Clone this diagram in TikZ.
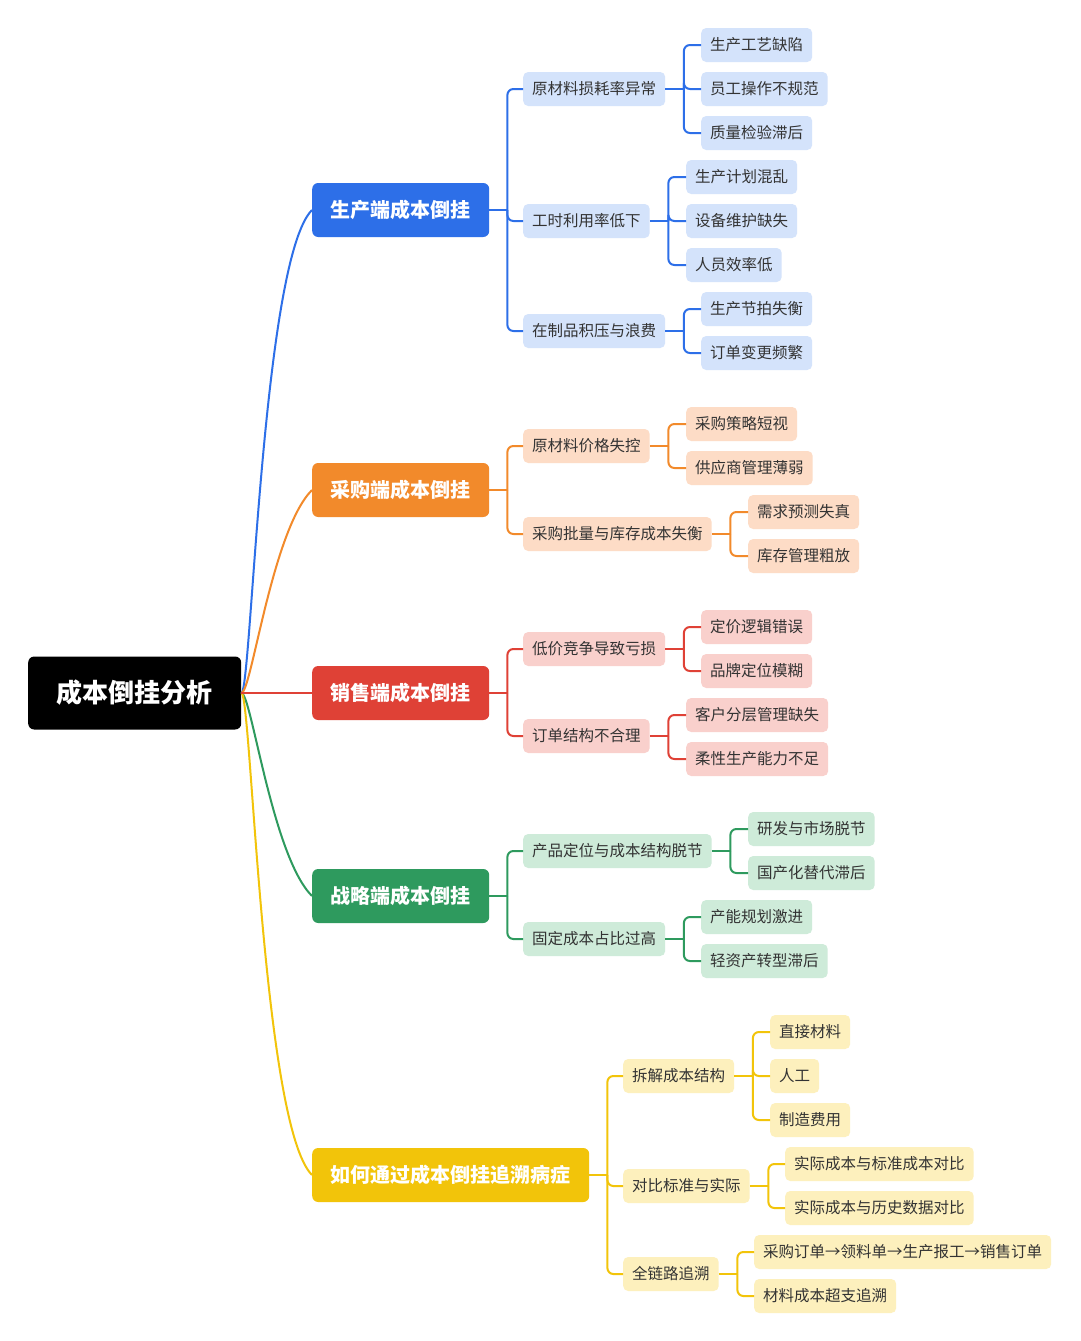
\documentclass[tikz,border=0pt]{standalone}
\usepackage{fontspec}
\setmainfont{Noto Sans CJK SC}
\definecolor{txt}{HTML}{333333}
\definecolor{bD}{HTML}{2D6FE8}\definecolor{bL}{HTML}{D4E3FB}
\definecolor{oD}{HTML}{F28A2B}\definecolor{oL}{HTML}{FDDCC6}
\definecolor{rD}{HTML}{DF4136}\definecolor{rL}{HTML}{F9D0CC}
\definecolor{gD}{HTML}{2E9A5E}\definecolor{gL}{HTML}{CEEBD9}
\definecolor{yD}{HTML}{F2C40A}\definecolor{yL}{HTML}{FDF0BD}
\tikzset{
  rootbox/.style={fill=black, text=white, font=\bfseries\fontsize{26}{30}\selectfont,
    rounded corners=6, minimum height=73, inner xsep=28.5, inner ysep=0, anchor=west},
  mainbox/.style={fill=#1, text=white, font=\bfseries\fontsize{20}{24}\selectfont,
    rounded corners=6, minimum height=54, inner xsep=18.5, inner ysep=0, anchor=west},
  subbox/.style={fill=#1, text=txt, font=\fontsize{15.5}{18}\selectfont,
    rounded corners=5, minimum height=34, inner xsep=9, inner ysep=0, anchor=west},
  conn/.style={draw=#1, line width=2},
  elbow/.style={draw=#1, line width=2, rounded corners=6},
}
\newcommand{\junction}[3]{\draw[conn=#1] (#2.east) -- ++(#3,0) coordinate (#2j);}
\newcommand{\twig}[3]{\draw[elbow=#1] (#2j) |- (#3.west);}
\begin{document}
\begin{tikzpicture}[x=1pt,y=-1pt]
\useasboundingbox[fill=white] (0,0) rectangle (1080,1341);

% root
\node[rootbox] (root) at (28,693) {成本倒挂分析};

% main branches
\node[mainbox=bD] (b0) at (312,210) {生产端成本倒挂};
\node[mainbox=oD] (o0) at (312,490) {采购端成本倒挂};
\node[mainbox=rD] (r0) at (312,693) {销售端成本倒挂};
\node[mainbox=gD] (g0) at (312,896) {战略端成本倒挂};
\node[mainbox=yD] (y0) at (312,1175) {如何通过成本倒挂追溯病症};

\draw[conn=bD] (root.east) .. controls +(10,0) and +(-50,50) .. (b0.west);
\draw[conn=oD] (root.east) .. controls +(10,0) and +(-40,40) .. (o0.west);
\draw[conn=gD] (root.east) .. controls +(10,0) and +(-40,-40) .. (g0.west);
\draw[conn=yD] (root.east) .. controls +(10,0) and +(-50,-50) .. (y0.west);
\draw[conn=rD] (root.east) -- (r0.west);

% blue group
\node[subbox=bL] (b1) at (523,89) {原材料损耗率异常};
\node[subbox=bL] (b2) at (523,221) {工时利用率低下};
\node[subbox=bL] (b3) at (523,331) {在制品积压与浪费};
\node[subbox=bL] (b11) at (701,45) {生产工艺缺陷};
\node[subbox=bL] (b12) at (701,89) {员工操作不规范};
\node[subbox=bL] (b13) at (701,133) {质量检验滞后};
\node[subbox=bL] (b21) at (686,177) {生产计划混乱};
\node[subbox=bL] (b22) at (686,221) {设备维护缺失};
\node[subbox=bL] (b23) at (686,265) {人员效率低};
\node[subbox=bL] (b31) at (701,309) {生产节拍失衡};
\node[subbox=bL] (b32) at (701,353) {订单变更频繁};
\junction{bD}{b0}{18}
\twig{bD}{b0}{b1}\twig{bD}{b0}{b2}\twig{bD}{b0}{b3}
\junction{bD}{b1}{18.5}
\twig{bD}{b1}{b11}\twig{bD}{b1}{b12}\twig{bD}{b1}{b13}
\junction{bD}{b2}{18.5}
\twig{bD}{b2}{b21}\twig{bD}{b2}{b22}\twig{bD}{b2}{b23}
\junction{bD}{b3}{18.5}
\twig{bD}{b3}{b31}\twig{bD}{b3}{b32}

% orange group
\node[subbox=oL] (o1) at (523,446) {原材料价格失控};
\node[subbox=oL] (o2) at (523,534) {采购批量与库存成本失衡};
\node[subbox=oL] (o11) at (686,424) {采购策略短视};
\node[subbox=oL] (o12) at (686,468) {供应商管理薄弱};
\node[subbox=oL] (o21) at (748,512) {需求预测失真};
\node[subbox=oL] (o22) at (748,556) {库存管理粗放};
\junction{oD}{o0}{18}
\twig{oD}{o0}{o1}\twig{oD}{o0}{o2}
\junction{oD}{o1}{18.5}
\twig{oD}{o1}{o11}\twig{oD}{o1}{o12}
\junction{oD}{o2}{18.5}
\twig{oD}{o2}{o21}\twig{oD}{o2}{o22}

% red group
\node[subbox=rL] (r1) at (523,649) {低价竞争导致亏损};
\node[subbox=rL] (r2) at (523,736) {订单结构不合理};
\node[subbox=rL] (r11) at (701,627) {定价逻辑错误};
\node[subbox=rL] (r12) at (701,671) {品牌定位模糊};
\node[subbox=rL] (r21) at (686,715) {客户分层管理缺失};
\node[subbox=rL] (r22) at (686,759) {柔性生产能力不足};
\junction{rD}{r0}{18}
\twig{rD}{r0}{r1}\twig{rD}{r0}{r2}
\junction{rD}{r1}{18.5}
\twig{rD}{r1}{r11}\twig{rD}{r1}{r12}
\junction{rD}{r2}{18.5}
\twig{rD}{r2}{r21}\twig{rD}{r2}{r22}

% green group
\node[subbox=gL] (g1) at (523,851) {产品定位与成本结构脱节};
\node[subbox=gL] (g2) at (523,939) {固定成本占比过高};
\node[subbox=gL] (g11) at (748,829) {研发与市场脱节};
\node[subbox=gL] (g12) at (748,873) {国产化替代滞后};
\node[subbox=gL] (g21) at (701,917) {产能规划激进};
\node[subbox=gL] (g22) at (701,961) {轻资产转型滞后};
\junction{gD}{g0}{18}
\twig{gD}{g0}{g1}\twig{gD}{g0}{g2}
\junction{gD}{g1}{18.5}
\twig{gD}{g1}{g11}\twig{gD}{g1}{g12}
\junction{gD}{g2}{18.5}
\twig{gD}{g2}{g21}\twig{gD}{g2}{g22}

% yellow group
\node[subbox=yL] (y1) at (623,1076) {拆解成本结构};
\node[subbox=yL] (y2) at (623,1186) {对比标准与实际};
\node[subbox=yL] (y3) at (623,1274) {全链路追溯};
\node[subbox=yL] (y11) at (770,1032) {直接材料};
\node[subbox=yL] (y12) at (770,1076) {人工};
\node[subbox=yL] (y13) at (770,1120) {制造费用};
\node[subbox=yL] (y21) at (785,1164) {实际成本与标准成本对比};
\node[subbox=yL] (y22) at (785,1208) {实际成本与历史数据对比};
\node[subbox=yL] (y31) at (754,1252) {采购订单→领料单→生产报工→销售订单};
\node[subbox=yL] (y32) at (754,1296) {材料成本超支追溯};
\junction{yD}{y0}{18}
\twig{yD}{y0}{y1}\twig{yD}{y0}{y2}\twig{yD}{y0}{y3}
\junction{yD}{y1}{18.5}
\twig{yD}{y1}{y11}\twig{yD}{y1}{y12}\twig{yD}{y1}{y13}
\junction{yD}{y2}{18.5}
\twig{yD}{y2}{y21}\twig{yD}{y2}{y22}
\junction{yD}{y3}{18.5}
\twig{yD}{y3}{y31}\twig{yD}{y3}{y32}
\end{tikzpicture}
\end{document}
